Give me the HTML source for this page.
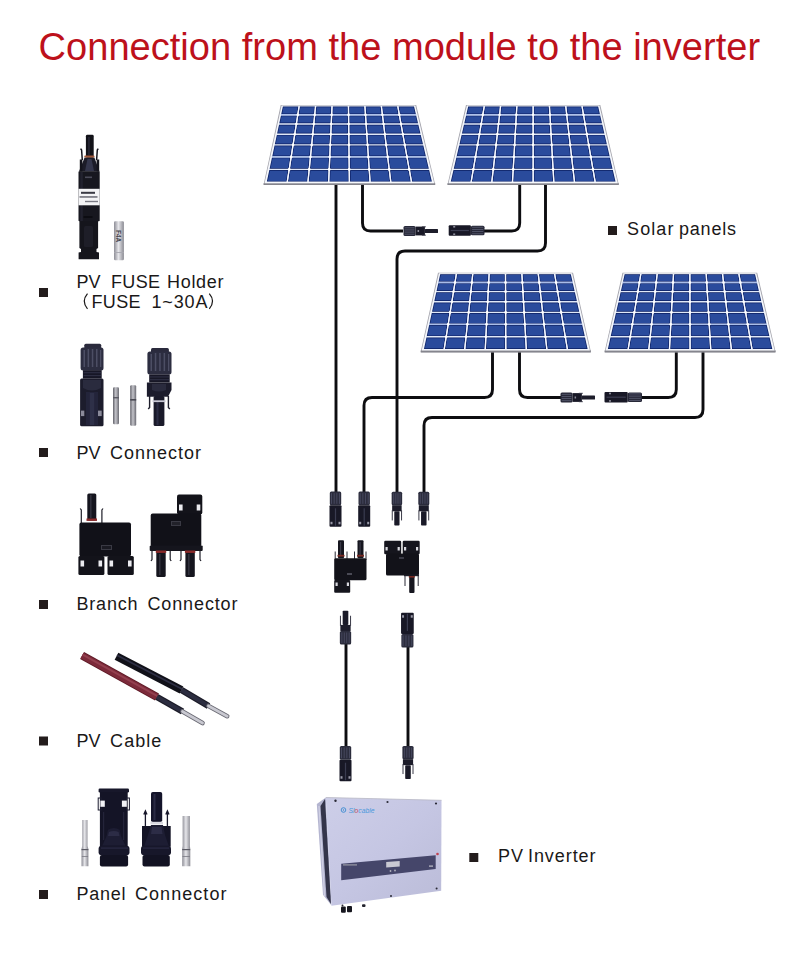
<!DOCTYPE html>
<html><head><meta charset="utf-8"><title>Connection from the module to the inverter</title>
<style>
html,body{margin:0;padding:0;background:#fff;}
body{width:800px;height:960px;overflow:hidden;position:relative;}
svg{position:absolute;left:0;top:0;}
text{font-family:"Liberation Sans", sans-serif;}
</style></head><body>
<svg width="800" height="960" viewBox="0 0 800 960">
<defs>
<linearGradient id="silver" x1="0" x2="1" y1="0" y2="0"><stop offset="0" stop-color="#8d8d96"/><stop offset="0.45" stop-color="#e6e6ea"/><stop offset="1" stop-color="#8a8a92"/></linearGradient>
<linearGradient id="invface" x1="0" x2="1" y1="0" y2="1"><stop offset="0" stop-color="#cdcee8"/><stop offset="0.5" stop-color="#c5c6e3"/><stop offset="1" stop-color="#bbbcd8"/></linearGradient>
<linearGradient id="silver2" x1="0" x2="1" y1="0" y2="0"><stop offset="0" stop-color="#606068"/><stop offset="0.45" stop-color="#c4c4ca"/><stop offset="1" stop-color="#6a6a72"/></linearGradient>
</defs>

<text x="38.6" y="59.5" font-size="39" fill="#bd111b" textLength="721.5" lengthAdjust="spacingAndGlyphs">Connection from the module to the inverter</text>
<path d="M336,183 V492 M362.5,183 V223 Q362.5,231 370.5,231 H403 M484,231 H511.70000000000005 Q519.7,231 519.7,223 V183 M545.5,183 V243 Q545.5,251 537.5,251 H405 Q397,251 397,259 V492 M492.5,350 V389.5 Q492.5,397.5 484.5,397.5 H372 Q364,397.5 364,405.5 V492 M519.5,350 V389.5 Q519.5,397.5 527.5,397.5 H561 M641,397.5 H668.3 Q676.3,397.5 676.3,389.5 V350 M703,350 V409.5 Q703,417.5 695,417.5 H432 Q424,417.5 424,425.5 V492 M346,640 V748 M408,645 V748" fill="none" stroke="#0d0d10" stroke-width="2.9" stroke-linejoin="round"/>
<polygon points="280.7,105.0 416.20000000000005,105.0 435.29999999999995,185.0 263.5,185.0" fill="#a4a4ac"/>
<polygon points="263.5,183.20000000000002 435.29999999999995,183.20000000000002 435.0,185.1 263.79999999999995,185.1" fill="#85858d"/>
<polygon points="281.6,105.5 415.3,105.5 434.2,183.3 264.59999999999997,183.3" fill="#f6f8fc"/>
<polygon points="282.6863463969659,106.3 414.2376738305942,106.3 432.2058154235145,181.9 266.53413400758535,181.9" fill="#dfe8f8"/>
<path d="M282.92,106.60L298.38,106.60L297.20,114.10L281.32,114.10ZM299.78,106.60L314.84,106.60L314.09,114.10L298.60,114.10ZM316.24,106.60L331.30,106.60L330.97,114.10L315.49,114.10ZM332.70,106.60L347.77,106.60L347.86,114.10L332.37,114.10ZM349.17,106.60L364.23,106.60L364.74,114.10L349.26,114.10ZM365.63,106.60L380.69,106.60L381.62,114.10L366.14,114.10ZM382.09,106.60L397.15,106.60L398.51,114.10L383.02,114.10ZM398.55,106.60L414.01,106.60L415.79,114.10L399.91,114.10ZM281.02,115.50L296.98,115.50L295.76,123.30L279.35,123.30ZM298.38,115.50L313.95,115.50L313.16,123.30L297.16,123.30ZM315.35,115.50L330.91,115.50L330.56,123.30L314.56,123.30ZM332.31,115.50L347.87,115.50L347.97,123.30L331.96,123.30ZM349.27,115.50L364.84,115.50L365.37,123.30L349.37,123.30ZM366.24,115.50L381.80,115.50L382.77,123.30L366.77,123.30ZM383.20,115.50L398.76,115.50L400.18,123.30L384.17,123.30ZM400.16,115.50L416.12,115.50L417.98,123.30L401.58,123.30ZM279.06,124.70L295.54,124.70L294.15,133.50L277.17,133.50ZM296.94,124.70L313.02,124.70L312.13,133.50L295.55,133.50ZM314.42,124.70L330.50,124.70L330.11,133.50L313.53,133.50ZM331.90,124.70L347.98,124.70L348.09,133.50L331.51,133.50ZM349.38,124.70L365.46,124.70L366.07,133.50L349.49,133.50ZM366.86,124.70L382.95,124.70L384.05,133.50L367.47,133.50ZM384.35,124.70L400.43,124.70L402.02,133.50L385.45,133.50ZM401.83,124.70L418.31,124.70L420.40,133.50L403.42,133.50ZM276.88,134.90L293.93,134.90L292.47,144.20L274.89,144.20ZM295.33,134.90L311.99,134.90L311.05,144.20L293.87,144.20ZM313.39,134.90L330.05,134.90L329.64,144.20L312.45,144.20ZM331.45,134.90L348.11,134.90L348.22,144.20L331.04,144.20ZM349.51,134.90L366.16,134.90L366.80,144.20L349.62,144.20ZM367.56,134.90L384.22,134.90L385.38,144.20L368.20,144.20ZM385.62,134.90L402.28,134.90L403.96,144.20L386.78,144.20ZM403.68,134.90L420.74,134.90L422.95,144.20L405.36,144.20ZM274.59,145.60L292.25,145.60L290.58,156.20L272.33,156.20ZM293.65,145.60L310.91,145.60L309.84,156.20L291.98,156.20ZM312.31,145.60L329.57,145.60L329.10,156.20L311.24,156.20ZM330.97,145.60L348.23,145.60L348.36,156.20L330.50,156.20ZM349.63,145.60L366.90,145.60L367.62,156.20L349.76,156.20ZM368.30,145.60L385.56,145.60L386.88,156.20L369.02,156.20ZM386.96,145.60L404.22,145.60L406.14,156.20L388.28,156.20ZM405.62,145.60L423.28,145.60L425.80,156.20L407.54,156.20ZM272.03,157.60L290.36,157.60L288.62,168.70L269.65,168.70ZM291.76,157.60L309.70,157.60L308.58,168.70L290.02,168.70ZM311.10,157.60L329.04,157.60L328.55,168.70L309.98,168.70ZM330.44,157.60L348.38,157.60L348.51,168.70L329.95,168.70ZM349.78,157.60L367.72,157.60L368.48,168.70L349.91,168.70ZM369.12,157.60L387.05,157.60L388.44,168.70L369.88,168.70ZM388.45,157.60L406.39,157.60L408.40,168.70L389.84,168.70ZM407.79,157.60L426.13,157.60L428.77,168.70L409.80,168.70ZM269.36,170.10L288.40,170.10L286.59,181.60L266.90,181.60ZM289.80,170.10L308.44,170.10L307.28,181.60L287.99,181.60ZM309.84,170.10L328.49,170.10L327.97,181.60L308.68,181.60ZM329.89,170.10L348.53,170.10L348.67,181.60L329.37,181.60ZM349.93,170.10L368.57,170.10L369.36,181.60L350.07,181.60ZM369.97,170.10L388.61,170.10L390.05,181.60L370.76,181.60ZM390.01,170.10L408.66,170.10L410.74,181.60L391.45,181.60ZM410.06,170.10L429.10,170.10L431.83,181.60L412.14,181.60Z" fill="#0c1f62"/>
<path d="M283.47,107.30L297.57,107.30L296.61,113.40L282.17,113.40ZM300.37,107.30L314.07,107.30L313.46,113.40L299.41,113.40ZM316.87,107.30L330.57,107.30L330.30,113.40L316.26,113.40ZM333.37,107.30L347.07,107.30L347.15,113.40L333.10,113.40ZM349.87,107.30L363.57,107.30L363.99,113.40L349.95,113.40ZM366.37,107.30L380.07,107.30L380.84,113.40L366.79,113.40ZM382.87,107.30L396.58,107.30L397.68,113.40L383.64,113.40ZM399.38,107.30L413.48,107.30L414.93,113.40L400.48,113.40ZM281.57,116.20L296.17,116.20L295.17,122.60L280.20,122.60ZM298.97,116.20L313.18,116.20L312.53,122.60L297.97,122.60ZM315.98,116.20L330.18,116.20L329.89,122.60L315.33,122.60ZM332.98,116.20L347.18,116.20L347.26,122.60L332.69,122.60ZM349.98,116.20L364.18,116.20L364.62,122.60L350.06,122.60ZM366.98,116.20L381.19,116.20L381.98,122.60L367.42,122.60ZM383.99,116.20L398.19,116.20L399.35,122.60L384.78,122.60ZM400.99,116.20L415.59,116.20L417.11,122.60L402.15,122.60ZM279.61,125.40L294.73,125.40L293.56,132.80L278.02,132.80ZM297.53,125.40L312.25,125.40L311.50,132.80L296.36,132.80ZM315.05,125.40L329.77,125.40L329.44,132.80L314.30,132.80ZM332.57,125.40L347.29,125.40L347.38,132.80L332.24,132.80ZM350.09,125.40L364.81,125.40L365.32,132.80L350.18,132.80ZM367.61,125.40L382.33,125.40L383.26,132.80L368.12,132.80ZM385.13,125.40L399.86,125.40L401.20,132.80L386.06,132.80ZM402.66,125.40L417.78,125.40L419.54,132.80L404.00,132.80ZM277.43,135.60L293.12,135.60L291.88,143.50L275.74,143.50ZM295.92,135.60L311.22,135.60L310.42,143.50L294.68,143.50ZM314.02,135.60L329.32,135.60L328.97,143.50L313.22,143.50ZM332.12,135.60L347.41,135.60L347.51,143.50L331.77,143.50ZM350.21,135.60L365.51,135.60L366.05,143.50L350.31,143.50ZM368.31,135.60L383.61,135.60L384.59,143.50L368.85,143.50ZM386.41,135.60L401.70,135.60L403.14,143.50L387.39,143.50ZM404.50,135.60L420.20,135.60L422.08,143.50L405.94,143.50ZM275.14,146.30L291.44,146.30L289.99,155.50L273.17,155.50ZM294.24,146.30L310.14,146.30L309.21,155.50L292.79,155.50ZM312.94,146.30L328.84,146.30L328.43,155.50L312.01,155.50ZM331.64,146.30L347.54,146.30L347.65,155.50L331.23,155.50ZM350.34,146.30L366.24,146.30L366.87,155.50L350.45,155.50ZM369.04,146.30L384.94,146.30L386.09,155.50L369.67,155.50ZM387.74,146.30L403.64,146.30L405.31,155.50L388.89,155.50ZM406.44,146.30L422.74,146.30L424.93,155.50L408.11,155.50ZM272.58,158.30L289.55,158.30L288.03,168.00L270.50,168.00ZM292.35,158.30L308.93,158.30L307.95,168.00L290.83,168.00ZM311.73,158.30L328.31,158.30L327.88,168.00L310.75,168.00ZM331.11,158.30L347.69,158.30L347.80,168.00L330.68,168.00ZM350.49,158.30L367.06,158.30L367.73,168.00L350.60,168.00ZM369.86,158.30L386.44,158.30L387.65,168.00L370.53,168.00ZM389.24,158.30L405.82,158.30L407.58,168.00L390.45,168.00ZM408.62,158.30L425.60,158.30L427.90,168.00L410.38,168.00ZM269.91,170.80L287.59,170.80L286.00,180.90L267.75,180.90ZM290.39,170.80L307.67,170.80L306.65,180.90L288.80,180.90ZM310.47,170.80L327.75,170.80L327.31,180.90L309.45,180.90ZM330.55,170.80L347.84,170.80L347.96,180.90L330.11,180.90ZM350.64,170.80L367.92,170.80L368.61,180.90L350.76,180.90ZM370.72,170.80L388.00,170.80L389.26,180.90L371.41,180.90ZM390.80,170.80L408.08,170.80L409.92,180.90L392.06,180.90ZM410.88,170.80L428.57,170.80L430.97,180.90L412.72,180.90Z" fill="#2a4b9c"/>
<rect x="280.87" y="114.10" width="135.39" height="1.4" fill="#a9bde9"/><rect x="271.88" y="156.20" width="154.39" height="1.4" fill="#a9bde9"/>
<path d="M299.13,106.30L287.24,181.90M315.57,106.30L307.95,181.90M332.02,106.30L328.66,181.90M348.46,106.30L349.37,181.90M364.91,106.30L370.08,181.90M381.35,106.30L390.79,181.90M397.79,106.30L411.50,181.90" stroke="#f4f7ff" stroke-width="1.2"/>
<g fill="#ffffff"><circle cx="297.79" cy="114.80" r="1.3"/><circle cx="314.72" cy="114.80" r="1.3"/><circle cx="331.64" cy="114.80" r="1.3"/><circle cx="348.56" cy="114.80" r="1.3"/><circle cx="365.49" cy="114.80" r="1.3"/><circle cx="382.41" cy="114.80" r="1.3"/><circle cx="399.33" cy="114.80" r="1.3"/><circle cx="296.35" cy="124.00" r="1.3"/><circle cx="313.79" cy="124.00" r="1.3"/><circle cx="331.23" cy="124.00" r="1.3"/><circle cx="348.67" cy="124.00" r="1.3"/><circle cx="366.12" cy="124.00" r="1.3"/><circle cx="383.56" cy="124.00" r="1.3"/><circle cx="401.00" cy="124.00" r="1.3"/><circle cx="294.74" cy="134.20" r="1.3"/><circle cx="312.76" cy="134.20" r="1.3"/><circle cx="330.78" cy="134.20" r="1.3"/><circle cx="348.80" cy="134.20" r="1.3"/><circle cx="366.82" cy="134.20" r="1.3"/><circle cx="384.83" cy="134.20" r="1.3"/><circle cx="402.85" cy="134.20" r="1.3"/><circle cx="293.06" cy="144.90" r="1.3"/><circle cx="311.68" cy="144.90" r="1.3"/><circle cx="330.30" cy="144.90" r="1.3"/><circle cx="348.93" cy="144.90" r="1.3"/><circle cx="367.55" cy="144.90" r="1.3"/><circle cx="386.17" cy="144.90" r="1.3"/><circle cx="404.79" cy="144.90" r="1.3"/><circle cx="291.17" cy="156.90" r="1.3"/><circle cx="310.47" cy="156.90" r="1.3"/><circle cx="329.77" cy="156.90" r="1.3"/><circle cx="349.07" cy="156.90" r="1.3"/><circle cx="368.37" cy="156.90" r="1.3"/><circle cx="387.67" cy="156.90" r="1.3"/><circle cx="406.97" cy="156.90" r="1.3"/><circle cx="289.21" cy="169.40" r="1.3"/><circle cx="309.21" cy="169.40" r="1.3"/><circle cx="329.22" cy="169.40" r="1.3"/><circle cx="349.22" cy="169.40" r="1.3"/><circle cx="369.22" cy="169.40" r="1.3"/><circle cx="389.23" cy="169.40" r="1.3"/><circle cx="409.23" cy="169.40" r="1.3"/></g>
<polygon points="466.0,105.0 600.3000000000001,105.0 618.9,185.0 447.40000000000003,185.0" fill="#a4a4ac"/>
<polygon points="447.40000000000003,183.20000000000002 618.9,183.20000000000002 618.6,185.1 447.7,185.1" fill="#85858d"/>
<polygon points="466.90000000000003,105.5 599.4000000000001,105.5 617.8,183.3 448.5,183.3" fill="#f6f8fc"/>
<polygon points="467.9686472819217,106.3 598.3313527180784,106.3 615.821618204804,181.9 450.478381795196,181.9" fill="#dfe8f8"/>
<path d="M468.20,106.60L483.51,106.60L482.21,114.10L466.46,114.10ZM484.91,106.60L499.82,106.60L498.96,114.10L483.61,114.10ZM501.22,106.60L516.14,106.60L515.70,114.10L500.36,114.10ZM517.54,106.60L532.45,106.60L532.45,114.10L517.10,114.10ZM533.85,106.60L548.76,106.60L549.20,114.10L533.85,114.10ZM550.16,106.60L565.08,106.60L565.94,114.10L550.60,114.10ZM566.48,106.60L581.39,106.60L582.69,114.10L567.34,114.10ZM582.79,106.60L598.10,106.60L599.84,114.10L584.09,114.10ZM466.14,115.50L481.97,115.50L480.61,123.30L464.34,123.30ZM483.37,115.50L498.80,115.50L497.89,123.30L482.01,123.30ZM500.20,115.50L515.62,115.50L515.17,123.30L499.29,123.30ZM517.02,115.50L532.45,115.50L532.45,123.30L516.57,123.30ZM533.85,115.50L549.28,115.50L549.73,123.30L533.85,123.30ZM550.68,115.50L566.10,115.50L567.01,123.30L551.13,123.30ZM567.50,115.50L582.93,115.50L584.29,123.30L568.41,123.30ZM584.33,115.50L600.16,115.50L601.96,123.30L585.69,123.30ZM464.01,124.70L480.37,124.70L478.84,133.50L461.98,133.50ZM481.77,124.70L497.73,124.70L496.71,133.50L480.24,133.50ZM499.13,124.70L515.09,124.70L514.58,133.50L498.11,133.50ZM516.49,124.70L532.45,124.70L532.45,133.50L515.98,133.50ZM533.85,124.70L549.81,124.70L550.32,133.50L533.85,133.50ZM551.21,124.70L567.17,124.70L568.19,133.50L551.72,133.50ZM568.57,124.70L584.53,124.70L586.06,133.50L569.59,133.50ZM585.93,124.70L602.29,124.70L604.32,133.50L587.46,133.50ZM461.65,134.90L478.60,134.90L476.99,144.20L459.50,144.20ZM480.00,134.90L496.55,134.90L495.48,144.20L478.39,144.20ZM497.95,134.90L514.50,134.90L513.96,144.20L496.88,144.20ZM515.90,134.90L532.45,134.90L532.45,144.20L515.36,144.20ZM533.85,134.90L550.40,134.90L550.94,144.20L533.85,144.20ZM551.80,134.90L568.35,134.90L569.42,144.20L552.34,144.20ZM569.75,134.90L586.30,134.90L587.91,144.20L570.82,144.20ZM587.70,134.90L604.65,134.90L606.80,144.20L589.31,144.20ZM459.18,145.60L476.74,145.60L474.91,156.20L456.72,156.20ZM478.14,145.60L495.31,145.60L494.09,156.20L476.31,156.20ZM496.71,145.60L513.88,145.60L513.27,156.20L495.49,156.20ZM515.28,145.60L532.45,145.60L532.45,156.20L514.67,156.20ZM533.85,145.60L551.02,145.60L551.63,156.20L533.85,156.20ZM552.42,145.60L569.59,145.60L570.81,156.20L553.03,156.20ZM570.99,145.60L588.16,145.60L589.99,156.20L572.21,156.20ZM589.56,145.60L607.12,145.60L609.58,156.20L591.39,156.20ZM456.40,157.60L474.66,157.60L472.74,168.70L453.83,168.70ZM476.06,157.60L493.93,157.60L492.64,168.70L474.14,168.70ZM495.33,157.60L513.19,157.60L512.55,168.70L494.04,168.70ZM514.59,157.60L532.45,157.60L532.45,168.70L513.95,168.70ZM533.85,157.60L551.71,157.60L552.35,168.70L533.85,168.70ZM553.11,157.60L570.97,157.60L572.26,168.70L553.75,168.70ZM572.37,157.60L590.24,157.60L592.16,168.70L573.66,168.70ZM591.64,157.60L609.90,157.60L612.47,168.70L593.56,168.70ZM453.51,170.10L472.49,170.10L470.50,181.60L450.85,181.60ZM473.89,170.10L492.48,170.10L491.15,181.60L471.90,181.60ZM493.88,170.10L512.46,170.10L511.80,181.60L492.55,181.60ZM513.86,170.10L532.45,170.10L532.45,181.60L513.20,181.60ZM533.85,170.10L552.44,170.10L553.10,181.60L533.85,181.60ZM553.84,170.10L572.42,170.10L573.75,181.60L554.50,181.60ZM573.82,170.10L592.41,170.10L594.40,181.60L575.15,181.60ZM593.81,170.10L612.79,170.10L615.45,181.60L595.80,181.60Z" fill="#0c1f62"/>
<path d="M468.74,107.30L482.69,107.30L481.63,113.40L467.33,113.40ZM485.49,107.30L499.04,107.30L498.34,113.40L484.43,113.40ZM501.84,107.30L515.40,107.30L515.04,113.40L501.14,113.40ZM518.20,107.30L531.75,107.30L531.75,113.40L517.84,113.40ZM534.55,107.30L548.10,107.30L548.46,113.40L534.55,113.40ZM550.90,107.30L564.46,107.30L565.16,113.40L551.26,113.40ZM567.26,107.30L580.81,107.30L581.87,113.40L567.96,113.40ZM583.61,107.30L597.56,107.30L598.97,113.40L584.67,113.40ZM466.68,116.20L481.15,116.20L480.04,122.60L465.20,122.60ZM483.95,116.20L498.01,116.20L497.27,122.60L482.84,122.60ZM500.81,116.20L514.88,116.20L514.51,122.60L500.07,122.60ZM517.68,116.20L531.75,116.20L531.75,122.60L517.31,122.60ZM534.55,116.20L548.62,116.20L548.99,122.60L534.55,122.60ZM551.42,116.20L565.49,116.20L566.23,122.60L551.79,122.60ZM568.29,116.20L582.35,116.20L583.46,122.60L569.03,122.60ZM585.15,116.20L599.62,116.20L601.10,122.60L586.26,122.60ZM464.55,125.40L479.55,125.40L478.27,132.80L462.84,132.80ZM482.35,125.40L496.95,125.40L496.09,132.80L481.07,132.80ZM499.75,125.40L514.35,125.40L513.92,132.80L498.89,132.80ZM517.15,125.40L531.75,125.40L531.75,132.80L516.72,132.80ZM534.55,125.40L549.15,125.40L549.58,132.80L534.55,132.80ZM551.95,125.40L566.55,125.40L567.41,132.80L552.38,132.80ZM569.35,125.40L583.95,125.40L585.23,132.80L570.21,132.80ZM586.75,125.40L601.75,125.40L603.46,132.80L588.03,132.80ZM462.19,135.60L477.78,135.60L476.41,143.50L460.36,143.50ZM480.58,135.60L495.77,135.60L494.86,143.50L479.21,143.50ZM498.57,135.60L513.76,135.60L513.30,143.50L497.66,143.50ZM516.56,135.60L531.75,135.60L531.75,143.50L516.10,143.50ZM534.55,135.60L549.74,135.60L550.20,143.50L534.55,143.50ZM552.54,135.60L567.73,135.60L568.64,143.50L553.00,143.50ZM570.53,135.60L585.72,135.60L587.09,143.50L571.44,143.50ZM588.52,135.60L604.11,135.60L605.94,143.50L589.89,143.50ZM459.71,146.30L475.92,146.30L474.33,155.50L457.59,155.50ZM478.72,146.30L494.53,146.30L493.47,155.50L477.13,155.50ZM497.33,146.30L513.14,146.30L512.61,155.50L496.27,155.50ZM515.94,146.30L531.75,146.30L531.75,155.50L515.41,155.50ZM534.55,146.30L550.36,146.30L550.89,155.50L534.55,155.50ZM553.16,146.30L568.97,146.30L570.03,155.50L553.69,155.50ZM571.77,146.30L587.58,146.30L589.17,155.50L572.83,155.50ZM590.38,146.30L606.59,146.30L608.71,155.50L591.97,155.50ZM456.94,158.30L473.84,158.30L472.16,168.00L454.69,168.00ZM476.64,158.30L493.14,158.30L492.02,168.00L474.96,168.00ZM495.94,158.30L512.45,158.30L511.89,168.00L494.82,168.00ZM515.25,158.30L531.75,158.30L531.75,168.00L514.69,168.00ZM534.55,158.30L551.05,158.30L551.61,168.00L534.55,168.00ZM553.85,158.30L570.36,158.30L571.48,168.00L554.41,168.00ZM573.16,158.30L589.66,158.30L591.34,168.00L574.28,168.00ZM592.46,158.30L609.36,158.30L611.61,168.00L594.14,168.00ZM454.05,170.80L471.67,170.80L469.92,180.90L451.71,180.90ZM474.47,170.80L491.70,170.80L490.53,180.90L472.72,180.90ZM494.50,170.80L511.72,170.80L511.14,180.90L493.33,180.90ZM514.52,170.80L531.75,170.80L531.75,180.90L513.94,180.90ZM534.55,170.80L551.78,170.80L552.36,180.90L534.55,180.90ZM554.58,170.80L571.80,170.80L572.97,180.90L555.16,180.90ZM574.60,170.80L591.83,170.80L593.58,180.90L575.77,180.90ZM594.63,170.80L612.25,170.80L614.59,180.90L596.38,180.90Z" fill="#2a4b9c"/>
<rect x="466.00" y="114.10" width="134.30" height="1.4" fill="#a9bde9"/><rect x="456.26" y="156.20" width="153.78" height="1.4" fill="#a9bde9"/>
<path d="M484.26,106.30L471.15,181.90M500.56,106.30L491.81,181.90M516.85,106.30L512.48,181.90M533.15,106.30L533.15,181.90M549.45,106.30L553.82,181.90M565.74,106.30L574.49,181.90M582.04,106.30L595.15,181.90" stroke="#f4f7ff" stroke-width="1.2"/>
<g fill="#ffffff"><circle cx="482.79" cy="114.80" r="1.3"/><circle cx="499.58" cy="114.80" r="1.3"/><circle cx="516.36" cy="114.80" r="1.3"/><circle cx="533.15" cy="114.80" r="1.3"/><circle cx="549.94" cy="114.80" r="1.3"/><circle cx="566.72" cy="114.80" r="1.3"/><circle cx="583.51" cy="114.80" r="1.3"/><circle cx="481.19" cy="124.00" r="1.3"/><circle cx="498.51" cy="124.00" r="1.3"/><circle cx="515.83" cy="124.00" r="1.3"/><circle cx="533.15" cy="124.00" r="1.3"/><circle cx="550.47" cy="124.00" r="1.3"/><circle cx="567.79" cy="124.00" r="1.3"/><circle cx="585.11" cy="124.00" r="1.3"/><circle cx="479.42" cy="134.20" r="1.3"/><circle cx="497.33" cy="134.20" r="1.3"/><circle cx="515.24" cy="134.20" r="1.3"/><circle cx="533.15" cy="134.20" r="1.3"/><circle cx="551.06" cy="134.20" r="1.3"/><circle cx="568.97" cy="134.20" r="1.3"/><circle cx="586.88" cy="134.20" r="1.3"/><circle cx="477.57" cy="144.90" r="1.3"/><circle cx="496.09" cy="144.90" r="1.3"/><circle cx="514.62" cy="144.90" r="1.3"/><circle cx="533.15" cy="144.90" r="1.3"/><circle cx="551.68" cy="144.90" r="1.3"/><circle cx="570.21" cy="144.90" r="1.3"/><circle cx="588.73" cy="144.90" r="1.3"/><circle cx="475.48" cy="156.90" r="1.3"/><circle cx="494.71" cy="156.90" r="1.3"/><circle cx="513.93" cy="156.90" r="1.3"/><circle cx="533.15" cy="156.90" r="1.3"/><circle cx="552.37" cy="156.90" r="1.3"/><circle cx="571.59" cy="156.90" r="1.3"/><circle cx="590.82" cy="156.90" r="1.3"/><circle cx="473.32" cy="169.40" r="1.3"/><circle cx="493.26" cy="169.40" r="1.3"/><circle cx="513.21" cy="169.40" r="1.3"/><circle cx="533.15" cy="169.40" r="1.3"/><circle cx="553.09" cy="169.40" r="1.3"/><circle cx="573.04" cy="169.40" r="1.3"/><circle cx="592.98" cy="169.40" r="1.3"/></g>
<polygon points="438.0,272.7 573.0,272.7 591.0,352.3 420.6,352.3" fill="#a4a4ac"/>
<polygon points="420.6,350.5 591.0,350.5 590.7,352.4 420.9,352.4" fill="#85858d"/>
<polygon points="438.90000000000003,273.2 572.1,273.2 589.9,350.59999999999997 421.7,350.59999999999997" fill="#f6f8fc"/>
<polygon points="439.9838179519596,273.99494310998733 571.0237673830594,273.99494310998733 587.9405815423514,349.2126422250316 423.64045512010114,349.2126422250316" fill="#dfe8f8"/>
<path d="M440.22,274.29L455.62,274.29L454.41,281.75L438.60,281.75ZM457.02,274.29L472.01,274.29L471.22,281.75L455.81,281.75ZM473.41,274.29L488.41,274.29L488.02,281.75L472.62,281.75ZM489.81,274.29L504.80,274.29L504.83,281.75L489.42,281.75ZM506.20,274.29L521.20,274.29L521.64,281.75L506.23,281.75ZM522.60,274.29L537.60,274.29L538.45,281.75L523.04,281.75ZM539.00,274.29L553.99,274.29L555.26,281.75L539.85,281.75ZM555.39,274.29L570.79,274.29L572.47,281.75L556.66,281.75ZM438.29,283.15L454.18,283.15L452.92,290.91L436.61,290.91ZM455.58,283.15L471.07,283.15L470.24,290.91L454.32,290.91ZM472.47,283.15L487.95,283.15L487.55,290.91L471.64,290.91ZM489.35,283.15L504.84,283.15L504.87,290.91L488.95,290.91ZM506.24,283.15L521.72,283.15L522.18,290.91L506.27,290.91ZM523.12,283.15L538.61,283.15L539.50,290.91L523.58,290.91ZM540.01,283.15L555.50,283.15L556.81,290.91L540.90,290.91ZM556.90,283.15L572.78,283.15L574.53,290.91L558.21,290.91ZM436.31,292.31L452.70,292.31L451.28,301.05L434.40,301.05ZM454.10,292.31L470.09,292.31L469.16,301.05L452.68,301.05ZM471.49,292.31L487.48,292.31L487.03,301.05L470.56,301.05ZM488.88,292.31L504.87,292.31L504.91,301.05L488.43,301.05ZM506.27,292.31L522.27,292.31L522.78,301.05L506.31,301.05ZM523.67,292.31L539.66,292.31L540.66,301.05L524.18,301.05ZM541.06,292.31L557.05,292.31L558.53,301.05L542.06,301.05ZM558.45,292.31L574.84,292.31L576.81,301.05L559.93,301.05ZM434.10,302.45L451.05,302.45L449.56,311.70L432.09,311.70ZM452.45,302.45L469.01,302.45L468.02,311.70L450.96,311.70ZM470.41,302.45L486.96,302.45L486.48,311.70L469.42,311.70ZM488.36,302.45L504.91,302.45L504.95,311.70L487.88,311.70ZM506.31,302.45L522.87,302.45L523.41,311.70L506.35,311.70ZM524.27,302.45L540.82,302.45L541.88,311.70L524.81,311.70ZM542.22,302.45L558.77,302.45L560.34,311.70L543.28,311.70ZM560.17,302.45L577.12,302.45L579.20,311.70L561.74,311.70ZM431.79,313.10L449.33,313.10L447.62,323.64L429.50,323.64ZM450.73,313.10L467.87,313.10L466.75,323.64L449.02,323.64ZM469.27,313.10L486.41,313.10L485.87,323.64L468.15,323.64ZM487.81,313.10L504.95,313.10L504.99,323.64L487.27,323.64ZM506.35,313.10L523.49,313.10L524.12,323.64L506.39,323.64ZM524.89,313.10L542.04,313.10L543.24,323.64L525.52,323.64ZM543.44,313.10L560.58,313.10L562.36,323.64L544.64,323.64ZM561.98,313.10L579.52,313.10L581.89,323.64L563.76,323.64ZM429.19,325.04L447.39,325.04L445.61,336.08L426.79,336.08ZM448.79,325.04L466.60,325.04L465.42,336.08L447.01,336.08ZM468.00,325.04L485.80,325.04L485.23,336.08L466.82,336.08ZM487.20,325.04L505.00,325.04L505.04,336.08L486.63,336.08ZM506.40,325.04L524.20,325.04L524.85,336.08L506.44,336.08ZM525.60,325.04L543.40,325.04L544.66,336.08L526.25,336.08ZM544.80,325.04L562.60,325.04L564.47,336.08L546.06,336.08ZM564.00,325.04L582.20,325.04L584.69,336.08L565.87,336.08ZM426.49,337.48L445.38,337.48L443.53,348.91L424.01,348.91ZM446.78,337.48L465.27,337.48L464.05,348.91L444.93,348.91ZM466.67,337.48L485.16,337.48L484.57,348.91L465.45,348.91ZM486.56,337.48L505.05,337.48L505.09,348.91L485.97,348.91ZM506.45,337.48L524.93,337.48L525.61,348.91L506.49,348.91ZM526.33,337.48L544.82,337.48L546.13,348.91L527.01,348.91ZM546.22,337.48L564.71,337.48L566.65,348.91L547.53,348.91ZM566.11,337.48L585.00,337.48L587.57,348.91L568.05,348.91Z" fill="#0c1f62"/>
<path d="M440.77,274.99L454.80,274.99L453.82,281.05L439.45,281.05ZM457.60,274.99L471.24,274.99L470.59,281.05L456.62,281.05ZM474.04,274.99L487.67,274.99L487.36,281.05L473.39,281.05ZM490.47,274.99L504.11,274.99L504.13,281.05L490.16,281.05ZM506.91,274.99L520.54,274.99L520.90,281.05L506.93,281.05ZM523.34,274.99L536.98,274.99L537.67,281.05L523.70,281.05ZM539.78,274.99L553.41,274.99L554.44,281.05L540.47,281.05ZM556.21,274.99L570.25,274.99L571.61,281.05L557.24,281.05ZM438.84,283.85L453.37,283.85L452.34,290.21L437.46,290.21ZM456.17,283.85L470.29,283.85L469.61,290.21L455.14,290.21ZM473.09,283.85L487.22,283.85L486.89,290.21L472.41,290.21ZM490.02,283.85L504.14,283.85L504.17,290.21L489.69,290.21ZM506.94,283.85L521.07,283.85L521.44,290.21L506.97,290.21ZM523.87,283.85L537.99,283.85L538.72,290.21L524.24,290.21ZM540.79,283.85L554.92,283.85L555.99,290.21L541.52,290.21ZM557.72,283.85L572.24,283.85L573.67,290.21L558.79,290.21ZM436.85,293.01L451.88,293.01L450.69,300.35L435.26,300.35ZM454.68,293.01L469.31,293.01L468.53,300.35L453.49,300.35ZM472.11,293.01L486.75,293.01L486.37,300.35L471.33,300.35ZM489.55,293.01L504.18,293.01L504.20,300.35L489.17,300.35ZM506.98,293.01L521.61,293.01L522.04,300.35L507.00,300.35ZM524.41,293.01L539.04,293.01L539.88,300.35L524.84,300.35ZM541.84,293.01L556.47,293.01L557.72,300.35L542.68,300.35ZM559.27,293.01L574.30,293.01L575.95,300.35L560.52,300.35ZM434.65,303.15L450.24,303.15L448.97,311.00L432.94,311.00ZM453.04,303.15L468.23,303.15L467.39,311.00L451.77,311.00ZM471.03,303.15L486.22,303.15L485.82,311.00L470.19,311.00ZM489.02,303.15L504.21,303.15L504.24,311.00L488.62,311.00ZM507.01,303.15L522.21,303.15L522.67,311.00L507.04,311.00ZM525.01,303.15L540.20,303.15L541.10,311.00L525.47,311.00ZM543.00,303.15L558.19,303.15L559.52,311.00L543.90,311.00ZM560.99,303.15L576.58,303.15L578.35,311.00L562.32,311.00ZM432.33,313.80L448.52,313.80L447.03,322.94L430.35,322.94ZM451.32,313.80L467.10,313.80L466.12,322.94L449.83,322.94ZM469.90,313.80L485.68,313.80L485.21,322.94L468.92,322.94ZM488.48,313.80L504.26,313.80L504.29,322.94L488.01,322.94ZM507.06,313.80L522.84,313.80L523.38,322.94L507.09,322.94ZM525.64,313.80L541.42,313.80L542.46,322.94L526.18,322.94ZM544.22,313.80L560.00,313.80L561.55,322.94L545.26,322.94ZM562.80,313.80L578.98,313.80L581.03,322.94L564.35,322.94ZM429.74,325.74L446.58,325.74L445.02,335.38L427.65,335.38ZM449.38,325.74L465.82,325.74L464.79,335.38L447.82,335.38ZM468.62,325.74L485.06,325.74L484.57,335.38L467.59,335.38ZM487.86,325.74L504.30,325.74L504.34,335.38L487.37,335.38ZM507.10,325.74L523.54,325.74L524.11,335.38L507.14,335.38ZM526.34,325.74L542.78,325.74L543.88,335.38L526.91,335.38ZM545.58,325.74L562.02,325.74L563.66,335.38L546.68,335.38ZM564.82,325.74L581.66,325.74L583.83,335.38L566.46,335.38ZM427.04,338.18L444.57,338.18L442.94,348.21L424.86,348.21ZM447.37,338.18L464.49,338.18L463.42,348.21L445.74,348.21ZM467.29,338.18L484.42,338.18L483.90,348.21L466.22,348.21ZM487.22,338.18L504.35,338.18L504.39,348.21L486.70,348.21ZM507.15,338.18L524.28,338.18L524.87,348.21L507.19,348.21ZM527.08,338.18L544.20,338.18L545.35,348.21L527.67,348.21ZM547.00,338.18L564.13,338.18L565.83,348.21L548.15,348.21ZM566.93,338.18L584.46,338.18L586.72,348.21L568.63,348.21Z" fill="#2a4b9c"/>
<rect x="438.15" y="281.75" width="134.78" height="1.4" fill="#a9bde9"/><rect x="429.05" y="323.64" width="153.30" height="1.4" fill="#a9bde9"/>
<path d="M456.36,273.99L444.18,349.21M472.74,273.99L464.72,349.21M489.12,273.99L485.25,349.21M505.50,273.99L505.79,349.21M521.88,273.99L526.33,349.21M538.26,273.99L546.87,349.21M554.64,273.99L567.40,349.21" stroke="#f4f7ff" stroke-width="1.2"/>
<g fill="#ffffff"><circle cx="454.99" cy="282.45" r="1.3"/><circle cx="471.84" cy="282.45" r="1.3"/><circle cx="488.69" cy="282.45" r="1.3"/><circle cx="505.54" cy="282.45" r="1.3"/><circle cx="522.38" cy="282.45" r="1.3"/><circle cx="539.23" cy="282.45" r="1.3"/><circle cx="556.08" cy="282.45" r="1.3"/><circle cx="453.51" cy="291.61" r="1.3"/><circle cx="470.86" cy="291.61" r="1.3"/><circle cx="488.22" cy="291.61" r="1.3"/><circle cx="505.57" cy="291.61" r="1.3"/><circle cx="522.92" cy="291.61" r="1.3"/><circle cx="540.28" cy="291.61" r="1.3"/><circle cx="557.63" cy="291.61" r="1.3"/><circle cx="451.87" cy="301.75" r="1.3"/><circle cx="469.78" cy="301.75" r="1.3"/><circle cx="487.70" cy="301.75" r="1.3"/><circle cx="505.61" cy="301.75" r="1.3"/><circle cx="523.52" cy="301.75" r="1.3"/><circle cx="541.44" cy="301.75" r="1.3"/><circle cx="559.35" cy="301.75" r="1.3"/><circle cx="450.14" cy="312.40" r="1.3"/><circle cx="468.64" cy="312.40" r="1.3"/><circle cx="487.15" cy="312.40" r="1.3"/><circle cx="505.65" cy="312.40" r="1.3"/><circle cx="524.15" cy="312.40" r="1.3"/><circle cx="542.66" cy="312.40" r="1.3"/><circle cx="561.16" cy="312.40" r="1.3"/><circle cx="448.21" cy="324.34" r="1.3"/><circle cx="467.37" cy="324.34" r="1.3"/><circle cx="486.53" cy="324.34" r="1.3"/><circle cx="505.70" cy="324.34" r="1.3"/><circle cx="524.86" cy="324.34" r="1.3"/><circle cx="544.02" cy="324.34" r="1.3"/><circle cx="563.18" cy="324.34" r="1.3"/><circle cx="446.19" cy="336.78" r="1.3"/><circle cx="466.04" cy="336.78" r="1.3"/><circle cx="485.89" cy="336.78" r="1.3"/><circle cx="505.74" cy="336.78" r="1.3"/><circle cx="525.59" cy="336.78" r="1.3"/><circle cx="545.44" cy="336.78" r="1.3"/><circle cx="565.29" cy="336.78" r="1.3"/></g>
<polygon points="622.5,272.7 757.2,272.7 775.6999999999999,352.3 604.5,352.3" fill="#a4a4ac"/>
<polygon points="604.5,350.5 775.6999999999999,350.5 775.4,352.4 604.8,352.4" fill="#85858d"/>
<polygon points="623.4,273.2 756.3000000000001,273.2 774.5999999999999,350.59999999999997 605.6,350.59999999999997" fill="#f6f8fc"/>
<polygon points="624.4762326169406,273.99494310998733 755.2300884955752,273.99494310998733 772.6247787610619,349.2126422250316 607.5594184576486,349.2126422250316" fill="#dfe8f8"/>
<path d="M624.71,274.29L640.07,274.29L638.82,281.75L623.03,281.75ZM641.47,274.29L656.43,274.29L655.60,281.75L640.22,281.75ZM657.83,274.29L672.79,274.29L672.39,281.75L657.00,281.75ZM674.19,274.29L689.15,274.29L689.18,281.75L673.79,281.75ZM690.55,274.29L705.52,274.29L705.96,281.75L690.58,281.75ZM706.92,274.29L721.88,274.29L722.75,281.75L707.36,281.75ZM723.28,274.29L738.24,274.29L739.54,281.75L724.15,281.75ZM739.64,274.29L755.00,274.29L756.72,281.75L740.94,281.75ZM622.72,283.15L638.58,283.15L637.28,290.91L620.97,290.91ZM639.98,283.15L655.45,283.15L654.59,290.91L638.68,290.91ZM656.85,283.15L672.32,283.15L671.90,290.91L655.99,290.91ZM673.72,283.15L689.18,283.15L689.21,290.91L673.30,290.91ZM690.58,283.15L706.05,283.15L706.52,290.91L690.61,290.91ZM707.45,283.15L722.91,283.15L723.82,290.91L707.92,290.91ZM724.31,283.15L739.78,283.15L741.13,290.91L725.22,290.91ZM741.18,283.15L757.05,283.15L758.84,290.91L742.53,290.91ZM620.66,292.31L637.05,292.31L635.58,301.05L618.69,301.05ZM638.45,292.31L654.43,292.31L653.46,301.05L636.98,301.05ZM655.83,292.31L671.82,292.31L671.35,301.05L654.86,301.05ZM673.22,292.31L689.21,292.31L689.24,301.05L672.75,301.05ZM690.61,292.31L706.60,292.31L707.13,301.05L690.64,301.05ZM708.00,292.31L723.99,292.31L725.01,301.05L708.53,301.05ZM725.39,292.31L741.38,292.31L742.90,301.05L726.41,301.05ZM742.78,292.31L759.16,292.31L761.19,301.05L744.30,301.05ZM618.38,302.45L635.34,302.45L633.79,311.70L616.30,311.70ZM636.74,302.45L653.31,302.45L652.28,311.70L635.19,311.70ZM654.71,302.45L671.28,302.45L670.78,311.70L653.68,311.70ZM672.68,302.45L689.24,302.45L689.27,311.70L672.18,311.70ZM690.64,302.45L707.21,302.45L707.77,311.70L690.67,311.70ZM708.61,302.45L725.18,302.45L726.26,311.70L709.17,311.70ZM726.58,302.45L743.14,302.45L744.76,311.70L727.66,311.70ZM744.54,302.45L761.51,302.45L763.65,311.70L746.16,311.70ZM615.98,313.10L633.56,313.10L631.79,323.64L613.61,323.64ZM634.96,313.10L652.13,313.10L650.96,323.64L633.19,323.64ZM653.53,313.10L670.70,313.10L670.14,323.64L652.36,323.64ZM672.10,313.10L689.28,313.10L689.31,323.64L671.54,323.64ZM690.68,313.10L707.85,313.10L708.49,323.64L690.71,323.64ZM709.25,313.10L726.43,313.10L727.66,323.64L709.89,323.64ZM727.83,313.10L745.00,313.10L746.84,323.64L729.06,323.64ZM746.40,313.10L763.97,313.10L766.41,323.64L748.24,323.64ZM613.30,325.04L631.55,325.04L629.70,336.08L610.81,336.08ZM632.95,325.04L650.81,325.04L649.58,336.08L631.10,336.08ZM652.21,325.04L670.06,325.04L669.47,336.08L650.98,336.08ZM671.46,325.04L689.32,325.04L689.35,336.08L670.87,336.08ZM690.72,325.04L708.57,325.04L709.23,336.08L690.75,336.08ZM709.97,325.04L727.82,325.04L729.12,336.08L710.63,336.08ZM729.22,325.04L747.08,325.04L749.00,336.08L730.52,336.08ZM748.48,325.04L766.73,325.04L769.29,336.08L750.40,336.08ZM610.50,337.48L629.46,337.48L627.54,348.91L607.93,348.91ZM630.86,337.48L649.43,337.48L648.16,348.91L628.94,348.91ZM650.83,337.48L669.39,337.48L668.78,348.91L649.56,348.91ZM670.79,337.48L689.35,337.48L689.39,348.91L670.18,348.91ZM690.75,337.48L709.32,337.48L710.01,348.91L690.79,348.91ZM710.72,337.48L729.28,337.48L730.62,348.91L711.41,348.91ZM730.68,337.48L749.25,337.48L751.24,348.91L732.02,348.91ZM750.65,337.48L769.61,337.48L772.26,348.91L752.64,348.91Z" fill="#0c1f62"/>
<path d="M625.25,274.99L639.25,274.99L638.24,281.05L623.89,281.05ZM642.05,274.99L655.65,274.99L654.98,281.05L641.04,281.05ZM658.45,274.99L672.06,274.99L671.73,281.05L657.78,281.05ZM674.86,274.99L688.46,274.99L688.48,281.05L674.53,281.05ZM691.26,274.99L704.86,274.99L705.22,281.05L691.28,281.05ZM707.66,274.99L721.26,274.99L721.97,281.05L708.02,281.05ZM724.06,274.99L737.66,274.99L738.72,281.05L724.77,281.05ZM740.46,274.99L754.46,274.99L755.86,281.05L741.52,281.05ZM623.26,283.85L637.77,283.85L636.70,290.21L621.83,290.21ZM640.57,283.85L654.67,283.85L653.97,290.21L639.50,290.21ZM657.47,283.85L671.58,283.85L671.24,290.21L656.77,290.21ZM674.38,283.85L688.48,283.85L688.50,290.21L674.04,290.21ZM691.28,283.85L705.39,283.85L705.77,290.21L691.30,290.21ZM708.19,283.85L722.30,283.85L723.04,290.21L708.57,290.21ZM725.10,283.85L739.20,283.85L740.31,290.21L725.84,290.21ZM742.00,283.85L756.51,283.85L757.98,290.21L743.11,290.21ZM621.20,293.01L636.23,293.01L635.00,300.35L619.55,300.35ZM639.03,293.01L653.66,293.01L652.84,300.35L637.80,300.35ZM656.46,293.01L671.09,293.01L670.69,300.35L655.64,300.35ZM673.89,293.01L688.51,293.01L688.54,300.35L673.49,300.35ZM691.31,293.01L705.94,293.01L706.38,300.35L691.34,300.35ZM708.74,293.01L723.37,293.01L724.23,300.35L709.18,300.35ZM726.17,293.01L740.80,293.01L742.08,300.35L727.03,300.35ZM743.60,293.01L758.63,293.01L760.33,300.35L744.88,300.35ZM618.92,303.15L634.53,303.15L633.21,311.00L617.15,311.00ZM637.33,303.15L652.53,303.15L651.66,311.00L636.01,311.00ZM655.33,303.15L670.54,303.15L670.12,311.00L654.46,311.00ZM673.34,303.15L688.55,303.15L688.57,311.00L672.92,311.00ZM691.35,303.15L706.55,303.15L707.02,311.00L691.37,311.00ZM709.35,303.15L724.56,303.15L725.48,311.00L709.82,311.00ZM727.36,303.15L742.57,303.15L743.93,311.00L728.28,311.00ZM745.37,303.15L760.97,303.15L762.79,311.00L746.73,311.00ZM616.52,313.80L632.74,313.80L631.20,322.94L614.47,322.94ZM635.54,313.80L651.35,313.80L650.34,322.94L634.00,322.94ZM654.15,313.80L669.97,313.80L669.47,322.94L653.14,322.94ZM672.77,313.80L688.58,313.80L688.61,322.94L672.27,322.94ZM691.38,313.80L707.19,313.80L707.74,322.94L691.41,322.94ZM709.99,313.80L725.81,313.80L726.88,322.94L710.54,322.94ZM728.61,313.80L744.42,313.80L746.01,322.94L729.68,322.94ZM747.22,313.80L763.44,313.80L765.55,322.94L748.81,322.94ZM613.84,325.74L630.73,325.74L629.12,335.38L611.67,335.38ZM633.53,325.74L650.03,325.74L648.96,335.38L631.92,335.38ZM652.83,325.74L669.32,325.74L668.80,335.38L651.76,335.38ZM672.12,325.74L688.62,325.74L688.65,335.38L671.60,335.38ZM691.42,325.74L707.91,325.74L708.49,335.38L691.45,335.38ZM710.71,325.74L727.21,325.74L728.34,335.38L711.29,335.38ZM730.01,325.74L746.50,325.74L748.18,335.38L731.14,335.38ZM749.30,325.74L766.20,325.74L768.42,335.38L750.98,335.38ZM611.04,338.18L628.65,338.18L626.96,348.21L608.78,348.21ZM631.45,338.18L648.65,338.18L647.54,348.21L629.76,348.21ZM651.45,338.18L668.65,338.18L668.11,348.21L650.34,348.21ZM671.45,338.18L688.66,338.18L688.69,348.21L670.91,348.21ZM691.46,338.18L708.66,338.18L709.27,348.21L691.49,348.21ZM711.46,338.18L728.66,338.18L729.84,348.21L712.07,348.21ZM731.46,338.18L748.67,338.18L750.42,348.21L732.64,348.21ZM751.47,338.18L769.07,338.18L771.39,348.21L753.22,348.21Z" fill="#2a4b9c"/>
<rect x="622.57" y="281.75" width="134.61" height="1.4" fill="#a9bde9"/><rect x="613.15" y="323.64" width="153.72" height="1.4" fill="#a9bde9"/>
<path d="M640.82,273.99L628.19,349.21M657.16,273.99L648.83,349.21M673.51,273.99L669.46,349.21M689.85,273.99L690.09,349.21M706.20,273.99L710.73,349.21M722.54,273.99L731.36,349.21M738.89,273.99L751.99,349.21" stroke="#f4f7ff" stroke-width="1.2"/>
<g fill="#ffffff"><circle cx="639.40" cy="282.45" r="1.3"/><circle cx="656.23" cy="282.45" r="1.3"/><circle cx="673.05" cy="282.45" r="1.3"/><circle cx="689.88" cy="282.45" r="1.3"/><circle cx="706.71" cy="282.45" r="1.3"/><circle cx="723.53" cy="282.45" r="1.3"/><circle cx="740.36" cy="282.45" r="1.3"/><circle cx="637.86" cy="291.61" r="1.3"/><circle cx="655.21" cy="291.61" r="1.3"/><circle cx="672.56" cy="291.61" r="1.3"/><circle cx="689.91" cy="291.61" r="1.3"/><circle cx="707.26" cy="291.61" r="1.3"/><circle cx="724.61" cy="291.61" r="1.3"/><circle cx="741.95" cy="291.61" r="1.3"/><circle cx="636.16" cy="301.75" r="1.3"/><circle cx="654.09" cy="301.75" r="1.3"/><circle cx="672.01" cy="301.75" r="1.3"/><circle cx="689.94" cy="301.75" r="1.3"/><circle cx="707.87" cy="301.75" r="1.3"/><circle cx="725.80" cy="301.75" r="1.3"/><circle cx="743.72" cy="301.75" r="1.3"/><circle cx="634.37" cy="312.40" r="1.3"/><circle cx="652.91" cy="312.40" r="1.3"/><circle cx="671.44" cy="312.40" r="1.3"/><circle cx="689.98" cy="312.40" r="1.3"/><circle cx="708.51" cy="312.40" r="1.3"/><circle cx="727.04" cy="312.40" r="1.3"/><circle cx="745.58" cy="312.40" r="1.3"/><circle cx="632.37" cy="324.34" r="1.3"/><circle cx="651.58" cy="324.34" r="1.3"/><circle cx="670.80" cy="324.34" r="1.3"/><circle cx="690.01" cy="324.34" r="1.3"/><circle cx="709.23" cy="324.34" r="1.3"/><circle cx="728.44" cy="324.34" r="1.3"/><circle cx="747.66" cy="324.34" r="1.3"/><circle cx="630.28" cy="336.78" r="1.3"/><circle cx="650.20" cy="336.78" r="1.3"/><circle cx="670.13" cy="336.78" r="1.3"/><circle cx="690.05" cy="336.78" r="1.3"/><circle cx="709.98" cy="336.78" r="1.3"/><circle cx="729.90" cy="336.78" r="1.3"/><circle cx="749.82" cy="336.78" r="1.3"/></g>
<rect x="403.5" y="226.0" width="12.075" height="10" rx="1.5" fill="#272838"/>
<rect x="404.7" y="227.4" width="9.674999999999999" height="0.8" fill="#585b70"/>
<rect x="404.7" y="229.53333333333333" width="9.674999999999999" height="0.8" fill="#585b70"/>
<rect x="404.7" y="231.66666666666669" width="9.674999999999999" height="0.8" fill="#585b70"/>
<rect x="404.7" y="233.8" width="9.674999999999999" height="0.8" fill="#585b70"/>
<rect x="415.575" y="226.6" width="9.315000000000001" height="8.8" fill="#181826"/>
<rect x="417.575" y="230" width="1.5" height="2" fill="#8a8a98"/>
<path d="M421.89,226.8 h4 M421.89,235.2 h4" stroke="#3a3a48" stroke-width="0.9"/>
<rect x="424.89" y="229" width="13.11" height="4" rx="0.6" fill="#1d1d2a"/>
<rect x="448.7" y="225.2" width="22.19600000000001" height="10.6" rx="1" fill="#181826"/>
<rect x="450.7" y="229.9" width="18.19600000000001" height="1.2" fill="#3c3e52"/>
<rect x="453.2" y="226.0" width="2" height="1.6" fill="#8a8a98"/>
<rect x="453.2" y="233.4" width="2" height="1.6" fill="#8a8a98"/>
<rect x="470.896" y="225.7" width="13.604000000000003" height="9.6" rx="1.5" fill="#272838"/>
<rect x="472.096" y="226.79999999999998" width="11.204000000000002" height="0.8" fill="#585b70"/>
<rect x="472.096" y="228.99999999999997" width="11.204000000000002" height="0.8" fill="#585b70"/>
<rect x="472.096" y="231.2" width="11.204000000000002" height="0.8" fill="#585b70"/>
<rect x="472.096" y="233.39999999999998" width="11.204000000000002" height="0.8" fill="#585b70"/>
<rect x="560.5" y="392.5" width="12.075" height="10" rx="1.5" fill="#272838"/>
<rect x="561.7" y="393.90000000000003" width="9.674999999999999" height="0.8" fill="#585b70"/>
<rect x="561.7" y="396.03333333333336" width="9.674999999999999" height="0.8" fill="#585b70"/>
<rect x="561.7" y="398.1666666666667" width="9.674999999999999" height="0.8" fill="#585b70"/>
<rect x="561.7" y="400.3" width="9.674999999999999" height="0.8" fill="#585b70"/>
<rect x="572.575" y="393.1" width="9.315000000000001" height="8.8" fill="#181826"/>
<rect x="574.575" y="396.5" width="1.5" height="2" fill="#8a8a98"/>
<path d="M578.8900000000001,393.3 h4 M578.8900000000001,401.7 h4" stroke="#3a3a48" stroke-width="0.9"/>
<rect x="581.8900000000001" y="395.5" width="13.11" height="4" rx="0.6" fill="#1d1d2a"/>
<rect x="604.5" y="391.9" width="23.25" height="10.6" rx="1" fill="#181826"/>
<rect x="606.5" y="396.59999999999997" width="19.25" height="1.2" fill="#3c3e52"/>
<rect x="609.0" y="392.7" width="2" height="1.6" fill="#8a8a98"/>
<rect x="609.0" y="400.1" width="2" height="1.6" fill="#8a8a98"/>
<rect x="627.75" y="392.4" width="14.25" height="9.6" rx="1.5" fill="#272838"/>
<rect x="628.95" y="393.5" width="11.85" height="0.8" fill="#585b70"/>
<rect x="628.95" y="395.7" width="11.85" height="0.8" fill="#585b70"/>
<rect x="628.95" y="397.9" width="11.85" height="0.8" fill="#585b70"/>
<rect x="628.95" y="400.1" width="11.85" height="0.8" fill="#585b70"/>
<rect x="329.8" y="491.6" width="11.4" height="13.727999999999973" rx="1.5" fill="#2b2c3c"/>
<rect x="331.0" y="493.1" width="1" height="10.727999999999973" fill="#46485e"/>
<rect x="333.6666666666667" y="493.1" width="1" height="10.727999999999973" fill="#46485e"/>
<rect x="336.3333333333333" y="493.1" width="1" height="10.727999999999973" fill="#46485e"/>
<rect x="339.0" y="493.1" width="1" height="10.727999999999973" fill="#46485e"/>
<rect x="329.5" y="505.328" width="12" height="21.47199999999996" rx="1" fill="#181826"/>
<rect x="334.9" y="508.328" width="1.2" height="17.47199999999996" fill="#3a3c50"/>
<rect x="330.5" y="521.8" width="2" height="2.5" fill="#9a9aa8"/>
<rect x="338.5" y="521.8" width="2" height="2.5" fill="#9a9aa8"/>
<rect x="358.5" y="491.6" width="11.4" height="13.727999999999973" rx="1.5" fill="#2b2c3c"/>
<rect x="359.7" y="493.1" width="1" height="10.727999999999973" fill="#46485e"/>
<rect x="362.3666666666667" y="493.1" width="1" height="10.727999999999973" fill="#46485e"/>
<rect x="365.0333333333333" y="493.1" width="1" height="10.727999999999973" fill="#46485e"/>
<rect x="367.7" y="493.1" width="1" height="10.727999999999973" fill="#46485e"/>
<rect x="358.2" y="505.328" width="12" height="21.47199999999996" rx="1" fill="#181826"/>
<rect x="363.59999999999997" y="508.328" width="1.2" height="17.47199999999996" fill="#3a3c50"/>
<rect x="359.2" y="521.8" width="2" height="2.5" fill="#9a9aa8"/>
<rect x="367.2" y="521.8" width="2" height="2.5" fill="#9a9aa8"/>
<rect x="391.65" y="491.7" width="10.5" height="13.520000000000005" rx="1.5" fill="#2b2c3c"/>
<rect x="393.15" y="493.2" width="1" height="10.520000000000005" fill="#46485e"/>
<rect x="395.31666666666666" y="493.2" width="1" height="10.520000000000005" fill="#46485e"/>
<rect x="397.4833333333333" y="493.2" width="1" height="10.520000000000005" fill="#46485e"/>
<rect x="399.65" y="493.2" width="1" height="10.520000000000005" fill="#46485e"/>
<rect x="392.15" y="505.21999999999997" width="9.5" height="6.084000000000001" fill="#1c1c2a"/>
<rect x="394.275" y="511.304" width="5.25" height="14.196000000000007" rx="0.8" fill="#1a1a28"/>
<path d="M392.25,510.304 v10.140000000000002" stroke="#3a3a48" stroke-width="1"/>
<path d="M401.54999999999995,510.304 v10.140000000000002" stroke="#3a3a48" stroke-width="1"/>
<rect x="418.3" y="491.7" width="11" height="13.520000000000005" rx="1.5" fill="#2b2c3c"/>
<rect x="419.8" y="493.2" width="1" height="10.520000000000005" fill="#46485e"/>
<rect x="422.1333333333333" y="493.2" width="1" height="10.520000000000005" fill="#46485e"/>
<rect x="424.4666666666667" y="493.2" width="1" height="10.520000000000005" fill="#46485e"/>
<rect x="426.8" y="493.2" width="1" height="10.520000000000005" fill="#46485e"/>
<rect x="418.8" y="505.21999999999997" width="10" height="6.084000000000001" fill="#1c1c2a"/>
<rect x="421.05" y="511.304" width="5.5" height="14.196000000000007" rx="0.8" fill="#1a1a28"/>
<path d="M418.90000000000003,510.304 v10.140000000000002" stroke="#3a3a48" stroke-width="1"/>
<path d="M428.7,510.304 v10.140000000000002" stroke="#3a3a48" stroke-width="1"/>
<rect x="339.85" y="630.98" width="11.3" height="13.519999999999982" rx="1.5" fill="#2b2c3c"/>
<rect x="341.35" y="632.48" width="1" height="10.519999999999982" fill="#46485e"/>
<rect x="343.78333333333336" y="632.48" width="1" height="10.519999999999982" fill="#46485e"/>
<rect x="346.2166666666667" y="632.48" width="1" height="10.519999999999982" fill="#46485e"/>
<rect x="348.65000000000003" y="632.48" width="1" height="10.519999999999982" fill="#46485e"/>
<rect x="340.35" y="624.8960000000001" width="10.3" height="6.083999999999992" fill="#1c1c2a"/>
<rect x="342.675" y="610.7" width="5.65" height="14.19599999999998" rx="0.8" fill="#1a1a28"/>
<path d="M340.45000000000005,625.8960000000001 v-10.139999999999986" stroke="#3a3a48" stroke-width="1"/>
<path d="M350.54999999999995,625.8960000000001 v-10.139999999999986" stroke="#3a3a48" stroke-width="1"/>
<rect x="401.34999999999997" y="633.928" width="12.1" height="13.571999999999983" rx="1.5" fill="#2b2c3c"/>
<rect x="402.54999999999995" y="635.428" width="1" height="10.571999999999983" fill="#46485e"/>
<rect x="405.44999999999993" y="635.428" width="1" height="10.571999999999983" fill="#46485e"/>
<rect x="408.34999999999997" y="635.428" width="1" height="10.571999999999983" fill="#46485e"/>
<rect x="411.24999999999994" y="635.428" width="1" height="10.571999999999983" fill="#46485e"/>
<rect x="401.04999999999995" y="612.7" width="12.7" height="21.227999999999973" rx="1" fill="#181826"/>
<rect x="406.79999999999995" y="613.7" width="1.2" height="17.227999999999973" fill="#3a3c50"/>
<rect x="402.04999999999995" y="615.2" width="2" height="2.5" fill="#9a9aa8"/>
<rect x="410.75" y="615.2" width="2" height="2.5" fill="#9a9aa8"/>
<rect x="339.8" y="746" width="11.4" height="13.728000000000018" rx="1.5" fill="#2b2c3c"/>
<rect x="341.0" y="747.5" width="1" height="10.728000000000018" fill="#46485e"/>
<rect x="343.6666666666667" y="747.5" width="1" height="10.728000000000018" fill="#46485e"/>
<rect x="346.3333333333333" y="747.5" width="1" height="10.728000000000018" fill="#46485e"/>
<rect x="349.0" y="747.5" width="1" height="10.728000000000018" fill="#46485e"/>
<rect x="339.5" y="759.7280000000001" width="12" height="21.47200000000003" rx="1" fill="#181826"/>
<rect x="344.9" y="762.7280000000001" width="1.2" height="17.47200000000003" fill="#3a3c50"/>
<rect x="340.5" y="776.2" width="2" height="2.5" fill="#9a9aa8"/>
<rect x="348.5" y="776.2" width="2" height="2.5" fill="#9a9aa8"/>
<rect x="402.4" y="746" width="11.2" height="13.200000000000001" rx="1.5" fill="#2b2c3c"/>
<rect x="403.9" y="747.5" width="1" height="10.200000000000001" fill="#46485e"/>
<rect x="406.29999999999995" y="747.5" width="1" height="10.200000000000001" fill="#46485e"/>
<rect x="408.7" y="747.5" width="1" height="10.200000000000001" fill="#46485e"/>
<rect x="411.09999999999997" y="747.5" width="1" height="10.200000000000001" fill="#46485e"/>
<rect x="402.9" y="759.2" width="10.2" height="5.9399999999999995" fill="#1c1c2a"/>
<rect x="405.2" y="765.1400000000001" width="5.6" height="13.859999999999998" rx="0.8" fill="#1a1a28"/>
<path d="M403.0,764.1400000000001 v9.9" stroke="#3a3a48" stroke-width="1"/>
<path d="M413.0,764.1400000000001 v9.9" stroke="#3a3a48" stroke-width="1"/>
<g>
<!-- left branch: two pins top, socket bottom-left -->
<rect x="338" y="540.2" width="6" height="18" rx="1" fill="#16161f"/>
<rect x="357.5" y="540.2" width="6" height="18" rx="1" fill="#16161f"/>
<rect x="340" y="542" width="1.2" height="14" fill="#3a3a48"/>
<rect x="359.5" y="542" width="1.2" height="14" fill="#3a3a48"/>
<rect x="337.5" y="554.8" width="7" height="1.8" fill="#7a2a22"/>
<rect x="357" y="554.8" width="7" height="1.8" fill="#7a2a22"/>
<path d="M335.2,560 V551.5 M347,560 V551.5 M354.5,560 V551.5 M366,560 V551.5" stroke="#2a2a36" stroke-width="1"/>
<rect x="334.2" y="558.3" width="32.3" height="22" rx="1.5" fill="#121219"/>
<rect x="347" y="573" width="5" height="2" fill="#4a4a55"/>
<rect x="334.2" y="580" width="16" height="12.7" rx="1" fill="#15151d"/>
<rect x="335.5" y="582.5" width="2.2" height="3.5" fill="#d8d8de"/>
<rect x="346.8" y="582.5" width="2.2" height="3.5" fill="#d8d8de"/>
<!-- right branch: two sockets top, pin bottom -->
<rect x="384.2" y="540.8" width="17" height="13.5" rx="1.2" fill="#15151d"/>
<rect x="402.7" y="540.8" width="17" height="13.5" rx="1.2" fill="#15151d"/>
<rect x="385.5" y="547" width="2.2" height="3.5" fill="#d8d8de"/>
<rect x="397.6" y="547" width="2.2" height="3.5" fill="#d8d8de"/>
<rect x="404" y="547" width="2.2" height="3.5" fill="#d8d8de"/>
<rect x="416" y="547" width="2.2" height="3.5" fill="#d8d8de"/>
<rect x="386" y="553.5" width="33" height="22" rx="1.5" fill="#121219"/>
<rect x="399" y="557" width="5" height="2" fill="#3a3a45"/>
<rect x="404" y="574.6" width="15" height="1.6" fill="#1d1d26"/>
<rect x="409.2" y="575" width="5.3" height="18" rx="1" fill="#16161f"/>
<rect x="408.8" y="576" width="6" height="1.6" fill="#7a2a22"/>
<path d="M405,586 V575.5 M418.2,586 V575.5" stroke="#2a2a36" stroke-width="1"/>
</g>
<g>
<polygon points="316.8,803.9 325.8,797.5 331.5,905.5 323,894.8" fill="#b4b5d0"/>
<polygon points="320.5,806 325,799 331,904 326.5,897" fill="#34354a"/>
<path d="M319,806 L324.5,896" stroke="#d0d0e4" stroke-width="1.2"/>
<polygon points="325.8,797.5 441.5,800.3 441.2,890.8 331.5,905.8" fill="url(#invface)"/>
<path d="M325.8,797.5 L441.5,800.3" stroke="#b8b8c4" stroke-width="0.8"/>
<polygon points="341.2,863.7 435.7,855.2 435.7,869 341.2,880.2" fill="#45466a"/>
<polygon points="386.2,862 399.7,861 399.7,866.5 386.2,867.5" fill="#c9c9d3"/>
<rect x="343" y="864.3" width="14" height="1.2" fill="#9999a6"/>
<rect x="429" y="865.5" width="4" height="1.2" fill="#c0c0ca"/>
<circle cx="390.5" cy="871" r="0.9" fill="#b0b0bc"/>
<circle cx="395" cy="870.5" r="0.9" fill="#b0b0bc"/>
<circle cx="437.5" cy="854" r="1.3" fill="#c04050"/>
<g fill="#2a2a36">
<circle cx="335.5" cy="800.8" r="1.2"/><circle cx="387.5" cy="802" r="1.1"/><circle cx="436" cy="803.5" r="1.1"/>
<circle cx="436.6" cy="888.6" r="1"/><circle cx="391" cy="896" r="1"/><circle cx="342.5" cy="905.5" r="1"/>
</g>
<rect x="341" y="906.5" width="4.8" height="6.3" rx="1" fill="#16161e"/>
<rect x="347" y="906" width="5" height="6.3" rx="1" fill="#16161e"/>
<rect x="362" y="904.2" width="3.5" height="2.8" rx="1" fill="#22222c"/>
<circle cx="343.5" cy="810" r="2.3" fill="none" stroke="#3a8ad0" stroke-width="0.9"/>
<circle cx="343.5" cy="810" r="0.7" fill="#3a8ad0"/>
<text x="348.5" y="812.6" font-size="7" fill="#4a98dc" textLength="26" lengthAdjust="spacingAndGlyphs" font-style="italic">Sl<tspan fill="#c04a5a">o</tspan>cable</text>
</g>
<g>
<!-- fuse holder -->
<rect x="85.9" y="134.8" width="7.8" height="23" rx="1.4" fill="#121218"/>
<rect x="88.3" y="137" width="1.3" height="18" fill="#2c2c3c"/>
<path d="M82.3,160 L81.6,150 L80.6,148.6 M96.6,160 L97.3,150 L98.2,148.6" stroke="#16161e" stroke-width="1.5" fill="none"/>
<polygon points="84.6,157.5 94.4,157.5 99.5,171.5 79,171.5" fill="#1c1c28"/>
<polygon points="87.5,159 91.5,159 94,171 85,171" fill="#34364c"/>
<rect x="79.8" y="159.5" width="2.6" height="12" fill="#14141c"/>
<rect x="96.6" y="159.5" width="2.6" height="12" fill="#14141c"/>
<rect x="84.3" y="155.5" width="10.2" height="2" rx="0.8" fill="#a0583a"/>
<rect x="78.5" y="171.2" width="21.2" height="50" rx="0.8" fill="#17171f"/>
<rect x="80.3" y="172" width="2.5" height="49" fill="#22222e"/>
<rect x="78.5" y="188.8" width="21.2" height="16.5" fill="#f4f4f6"/>
<rect x="81" y="191.8" width="14" height="2" fill="#3a3a44"/>
<rect x="79.5" y="196.2" width="18" height="1.5" fill="#6a6a74"/>
<rect x="85" y="200.8" width="13" height="1.4" fill="#7a7a84"/>
<rect x="85" y="176.5" width="7" height="1.6" fill="#4a4a58"/>
<rect x="83.5" y="216" width="9" height="2" fill="#0c0c12"/>
<polygon points="79.4,221 98.1,221 98.1,248 96.5,249 96.5,252 99,252.5 99,259.3 78.6,259.3 78.6,252.5 81,252 81,249 79.4,248" fill="#15151c"/>
<rect x="84" y="226" width="9" height="21" rx="1.5" fill="#1e1e28"/>
<rect x="114" y="221.2" width="9.9" height="39" rx="1.2" fill="url(#silver)"/>
<rect x="114" y="252" width="9.9" height="0.9" fill="#a8a8b0"/>
<text x="0" y="0" transform="translate(115.5,230) rotate(90)" font-size="6.5" font-weight="bold" fill="#44444c">F4A</text>
<!-- PV connector female -->
<rect x="84.3" y="343.7" width="16.9" height="5" rx="1.5" fill="#2a2a3c"/>
<rect x="80.6" y="347.5" width="22.9" height="23" rx="2.5" fill="#2c2d40"/>
<g fill="#4c4e64"><rect x="83.5" y="350" width="1.5" height="17"/><rect x="87.6" y="349" width="1.5" height="18"/><rect x="91.8" y="349" width="1.5" height="18"/><rect x="96" y="349" width="1.5" height="18"/><rect x="100" y="350" width="1.3" height="17"/></g>
<rect x="82.9" y="370.2" width="18.8" height="8.4" fill="#171726"/>
<rect x="83.5" y="372.3" width="17.6" height="0.9" fill="#34354a"/>
<rect x="83.5" y="375.2" width="17.6" height="0.9" fill="#34354a"/>
<rect x="80.1" y="378.5" width="23.4" height="47.7" rx="1.5" fill="#1c1c2c"/>
<path d="M83,380 H101 V388 Q92,393 83,388 Z" fill="#2a2b3e"/>
<rect x="86" y="392" width="12" height="33" fill="#23243a"/>
<rect x="89.8" y="393" width="4.4" height="32" fill="#2e3048"/>
<rect x="81" y="410.6" width="3.3" height="5.5" fill="#8a8a9a"/>
<rect x="98" y="410.6" width="3.7" height="5.5" fill="#8a8a9a"/>
<rect x="113" y="387.3" width="6" height="37" rx="1.2" fill="url(#silver2)"/>
<rect x="113" y="397" width="6" height="1.4" fill="#5a5a64"/>
<rect x="130.2" y="385.2" width="6" height="40.6" rx="1.2" fill="url(#silver2)"/>
<rect x="130.2" y="399" width="6" height="1.6" fill="#4a4a54"/>
<!-- PV connector male -->
<rect x="151" y="348" width="17.9" height="5" rx="1.5" fill="#2a2a3c"/>
<rect x="147.4" y="351.5" width="24.1" height="23" rx="2.5" fill="#2c2d40"/>
<g fill="#4c4e64"><rect x="150.5" y="354" width="1.5" height="17"/><rect x="154.8" y="353" width="1.5" height="18"/><rect x="159.2" y="353" width="1.5" height="18"/><rect x="163.6" y="353" width="1.5" height="18"/><rect x="168" y="354" width="1.3" height="17"/></g>
<rect x="149.2" y="374.4" width="20.5" height="8.1" fill="#171726"/>
<rect x="149.8" y="376.5" width="19.3" height="0.9" fill="#34354a"/>
<rect x="149.8" y="379.3" width="19.3" height="0.9" fill="#34354a"/>
<path d="M146.9,382.5 H171.5 V390 L168,396.8 H146.9 Z" fill="#1c1c2c"/>
<path d="M152,384 H166 V390 Q159,393 152,390 Z" fill="#2a2b3e"/>
<rect x="153.6" y="396" width="10.8" height="30" rx="1.5" fill="#1a1a2a"/>
<rect x="156.5" y="402" width="2" height="23" fill="#2c2d44"/>
<rect x="152.5" y="400.3" width="13" height="1.8" fill="#c8c8d4"/>
<path d="M149.6,396 V407.5 L148.2,409 M168.4,396 V407.5 L169.8,409" stroke="#1f1f2c" stroke-width="1.4" fill="none"/>

<!-- branch connector image left -->
<rect x="87.3" y="493.4" width="9" height="27" rx="1.5" fill="#15151e"/>
<rect x="90" y="495" width="1.6" height="23" fill="#30303c"/>
<rect x="86.5" y="518.5" width="10.5" height="2.4" fill="#8a2a2a"/>
<path d="M81.3,523 V510 L80.2,508.5 M101.9,523 V510 L103,508.5" stroke="#1e1e28" stroke-width="1.2" fill="none"/>
<rect x="79.4" y="522.5" width="51.6" height="34" rx="2" fill="#111118"/>
<rect x="101" y="545" width="11" height="5" fill="#3a3a44"/>
<rect x="102" y="546" width="9" height="3" fill="#1a1a22"/>
<rect x="78.4" y="556" width="26" height="19" rx="1.5" fill="#13131a"/>
<rect x="107.5" y="556" width="26.3" height="19" rx="1.5" fill="#13131a"/>
<rect x="80.5" y="560.5" width="3.6" height="6" fill="#ececf0"/>
<rect x="98.5" y="560.5" width="3.6" height="6" fill="#ececf0"/>
<rect x="109.5" y="560.5" width="3.6" height="6" fill="#ececf0"/>
<rect x="128" y="560.5" width="3.6" height="6" fill="#ececf0"/>
<!-- branch connector image right -->
<rect x="177" y="494.4" width="25.3" height="20" rx="2" fill="#13131a"/>
<rect x="179" y="504.5" width="3.6" height="6" fill="#ececf0"/>
<rect x="196.7" y="504.5" width="3.6" height="6" fill="#ececf0"/>
<rect x="150.7" y="513.5" width="50.6" height="33" rx="2" fill="#111118"/>
<rect x="171" y="521" width="10" height="5" fill="#3a3a44"/>
<rect x="172" y="522" width="8" height="3" fill="#22222a"/>
<rect x="149.7" y="545.5" width="53" height="5.5" rx="1" fill="#15151d"/>
<rect x="156.3" y="550" width="9.4" height="27" rx="1.5" fill="#15151e"/>
<rect x="185.4" y="550" width="9.4" height="27" rx="1.5" fill="#15151e"/>
<rect x="155.8" y="550.5" width="10.4" height="2.4" fill="#8a2a2a"/>
<rect x="184.9" y="550.5" width="10.4" height="2.4" fill="#8a2a2a"/>
<rect x="159" y="554" width="1.6" height="21" fill="#30303c"/>
<rect x="188" y="554" width="1.6" height="21" fill="#30303c"/>
<path d="M152,551 V559.5 L151,561 M170.2,551 V559.5 L171.2,561 M181,551 V559.5 L180,561 M200,551 V559.5 L201,561" stroke="#1e1e28" stroke-width="1.2" fill="none"/>

<!-- PV cable -->
<path d="M82.1,655.5 L157,697" stroke="#5e1a26" stroke-width="8.2"/>
<path d="M82.1,655.5 L157,697" stroke="#7c2a3a" stroke-width="6.4"/>
<path d="M82.6,654.6 L157.5,696.1" stroke="#93404f" stroke-width="1.8"/>
<path d="M157,697 L182.5,711.5" stroke="#1c1c28" stroke-width="6.6"/>
<path d="M157,697 L182.5,711.5" stroke="#2c2d40" stroke-width="4"/>
<path d="M182.5,711.5 L202.5,723" stroke="#6a6a74" stroke-width="4.6" stroke-linecap="round"/>
<path d="M182.5,711.5 L202.5,723" stroke="#c8c8d0" stroke-width="2.8" stroke-linecap="round"/>
<path d="M116.5,656.3 L181.5,690" stroke="#111119" stroke-width="8"/>
<path d="M117,655.3 L182,689" stroke="#2e2f44" stroke-width="1.8"/>
<path d="M181.5,690 L208.5,706" stroke="#1c1c28" stroke-width="6.6"/>
<path d="M181.5,690 L208.5,706" stroke="#2c2d40" stroke-width="4"/>
<path d="M208.5,706 L227.2,716.2" stroke="#6a6a74" stroke-width="4.6" stroke-linecap="round"/>
<path d="M208.5,706 L227.2,716.2" stroke="#c8c8d0" stroke-width="2.8" stroke-linecap="round"/>

<!-- panel connector -->
<path d="M82.2,820 H87.6 V846 L88.4,849 V866.2 H81.5 V849 L82.2,846 Z" fill="url(#silver)"/>
<rect x="81.5" y="849" width="6.9" height="1.2" fill="#5a5a64"/>
<rect x="81.8" y="856" width="6.3" height="0.8" fill="#7a7a84"/>
<rect x="98.6" y="788.5" width="30.4" height="4" rx="1.2" fill="#17172a"/>
<rect x="99.9" y="792" width="27.8" height="55" fill="#141426"/>
<rect x="98.2" y="798" width="3" height="12" fill="none" stroke="#1c1c30" stroke-width="1"/>
<rect x="126.4" y="798" width="3" height="12" fill="none" stroke="#1c1c30" stroke-width="1"/>
<rect x="100.4" y="800.6" width="4.4" height="6.2" fill="#f2f2f6"/>
<rect x="121.9" y="800.6" width="4.9" height="6.2" fill="#f2f2f6"/>
<rect x="103" y="812" width="1.2" height="28" fill="#24243a"/>
<rect x="123" y="812" width="1.2" height="28" fill="#24243a"/>
<path d="M108,829.7 Q113.8,826.5 119.6,829.7 L121,836 L125.4,845.8 H102.2 L106.6,836 Z" fill="#1d1d33"/>
<path d="M109,832 Q113.8,830 118.6,832 L119.5,836 H108 Z" fill="#2c2c46"/>
<rect x="98.6" y="845.8" width="30.9" height="9.4" rx="3" fill="#17172a"/>
<rect x="99.9" y="855" width="28.2" height="11.4" rx="2" fill="#121222"/>
<rect x="101" y="847.5" width="27" height="1.2" fill="#2a2a44"/>
<rect x="151" y="792" width="11.2" height="30" rx="1.8" fill="#14142a"/>
<rect x="153.5" y="794" width="2" height="26" fill="#2a2a44"/>
<rect x="150.5" y="821.8" width="12.5" height="2.6" fill="#d8d8e0"/>
<path d="M145.4,828 V812.5 M143.8,814.5 L145.4,810.9 L147,814.5 M167.4,828 V812.5 M165.8,814.5 L167.4,810.9 L169,814.5" stroke="#17172a" stroke-width="1.3" fill="none"/>
<rect x="142" y="826" width="28.7" height="20.7" fill="#141426"/>
<path d="M151,825 H163 L165,835 L169,846.5 H144 L148,835 Z" fill="#1d1d33"/>
<path d="M152,827 H161.5 L162.5,834 H151 Z" fill="#2c2c46"/>
<rect x="141" y="845.8" width="30" height="9.4" rx="3" fill="#17172a"/>
<rect x="142.5" y="855" width="27.3" height="11.5" rx="2" fill="#121222"/>
<rect x="143" y="847.5" width="26" height="1.2" fill="#2a2a44"/>
<path d="M182.6,816 H189.9 V846 L190.3,849 V866.2 H182.2 V849 L182.6,846 Z" fill="url(#silver)"/>
<rect x="182.2" y="849" width="8" height="1.2" fill="#5a5a64"/>
<rect x="182.4" y="856" width="7.6" height="0.8" fill="#7a7a84"/>
</g>
<rect x="39" y="288" width="9" height="9" fill="#231c1c"/>
<rect x="39" y="448" width="9" height="9" fill="#231c1c"/>
<rect x="39" y="600" width="9" height="9" fill="#231c1c"/>
<rect x="39" y="736.5" width="9" height="9" fill="#231c1c"/>
<rect x="39" y="890" width="9" height="9" fill="#231c1c"/>
<rect x="608" y="226" width="9" height="9" fill="#231c1c"/>
<rect x="469.3" y="853" width="9" height="9" fill="#231c1c"/>
<text x="76.5" y="288.0" font-size="18" fill="#1a1818" textLength="24.0" lengthAdjust="spacing">PV</text>
<text x="111.0" y="288.0" font-size="18" fill="#1a1818" textLength="49.0" lengthAdjust="spacing">FUSE</text>
<text x="167.0" y="288.0" font-size="18" fill="#1a1818" textLength="56.5" lengthAdjust="spacing">Holder</text>
<text x="91.5" y="307.7" font-size="18" fill="#1a1818" textLength="49.0" lengthAdjust="spacing">FUSE</text>
<text x="151.5" y="307.7" font-size="18" fill="#1a1818" textLength="56.0" lengthAdjust="spacing">1~30A</text>
<text x="76.5" y="458.5" font-size="18" fill="#1a1818" textLength="24.0" lengthAdjust="spacing">PV</text>
<text x="110.0" y="458.5" font-size="18" fill="#1a1818" textLength="91.0" lengthAdjust="spacing">Connector</text>
<text x="76.5" y="610.2" font-size="18" fill="#1a1818" textLength="61.0" lengthAdjust="spacing">Branch</text>
<text x="147.5" y="610.2" font-size="18" fill="#1a1818" textLength="90.0" lengthAdjust="spacing">Connector</text>
<text x="76.4" y="747.1" font-size="18" fill="#1a1818" textLength="24.2" lengthAdjust="spacing">PV</text>
<text x="110.1" y="747.1" font-size="18" fill="#1a1818" textLength="51.2" lengthAdjust="spacing">Cable</text>
<text x="76.5" y="900.2" font-size="18" fill="#1a1818" textLength="49.0" lengthAdjust="spacing">Panel</text>
<text x="135.0" y="900.2" font-size="18" fill="#1a1818" textLength="91.5" lengthAdjust="spacing">Connector</text>
<text x="627.0" y="234.6" font-size="18" fill="#1a1818" textLength="46.5" lengthAdjust="spacing">Solar</text>
<text x="679.0" y="234.6" font-size="18" fill="#1a1818" textLength="57.0" lengthAdjust="spacing">panels</text>
<text x="498.0" y="862.2" font-size="18" fill="#1a1818" textLength="25.0" lengthAdjust="spacing">PV</text>
<text x="528.0" y="862.2" font-size="18" fill="#1a1818" textLength="67.5" lengthAdjust="spacing">Inverter</text>
<path d="M87.5,293.6 Q81,301.1 87.5,308.8 M209.3,293.6 Q215.8,301.1 209.3,308.8" fill="none" stroke="#1a1818" stroke-width="1.2"/>
</svg>
</body></html>
